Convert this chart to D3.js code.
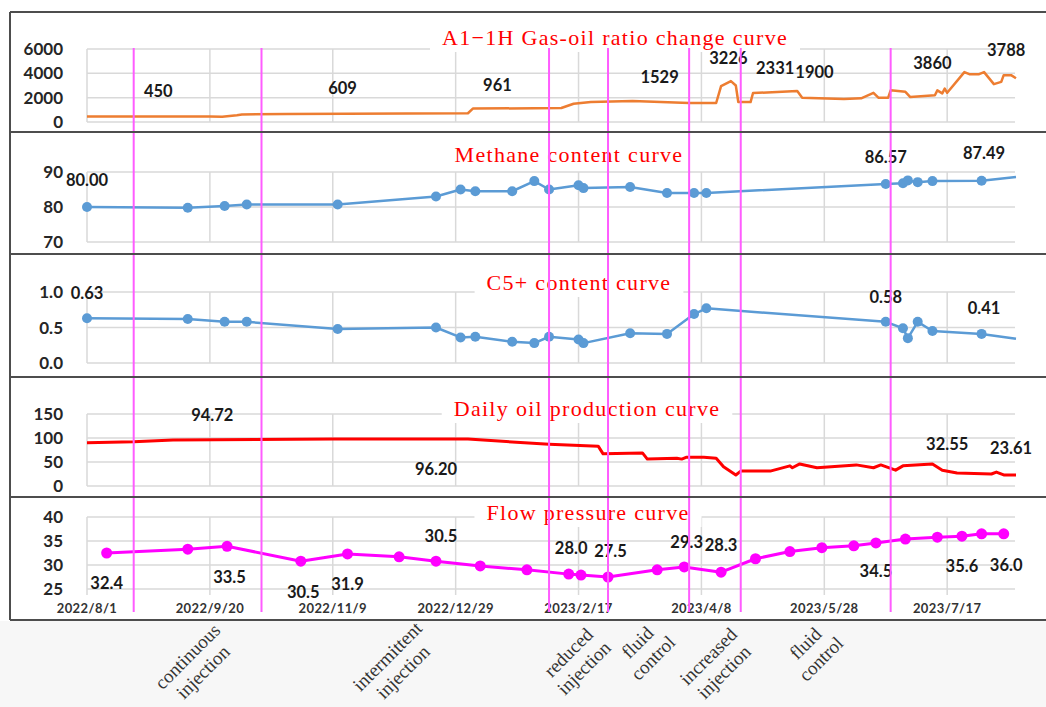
<!DOCTYPE html>
<html><head><meta charset="utf-8">
<script src="https://cdn.jsdelivr.net/npm/d3@7/dist/d3.min.js"></script>
<style>body{margin:0;background:#fff}svg{display:block}</style>
</head><body>
<svg id="c" width="1046" height="707"></svg>
<script>
// ---------------- DATA ----------------
const xTickLabels = ["2022/8/1","2022/9/20","2022/11/9","2022/12/29","2023/2/17","2023/4/8","2023/5/28","2023/7/17"];
const xTickDates  = ["2022-08-01","2022-09-20","2022-11-09","2022-12-29","2023-02-17","2023-04-08","2023-05-28","2023-07-17"];
const stageDates  = ["2022-08-20","2022-10-11","2023-02-05","2023-03-01","2023-04-03","2023-04-24","2023-06-24"];
const stageNames  = [["continuous","injection"],["intermittent","injection"],["reduced","injection"],["fluid","control"],["increased","injection"],["fluid","control"]];

const titles = ["A1\u22121H Gas-oil ratio change curve","Methane content curve","C5+ content curve","Daily oil production curve","Flow pressure curve"];

const gorDates = ["2022-08-01","2022-09-20","2022-09-25","2022-10-01","2022-10-03","2022-10-21","2023-01-03","2023-01-05","2023-02-10","2023-02-15","2023-02-22","2023-03-11","2023-04-03","2023-04-14","2023-04-16","2023-04-20","2023-04-22","2023-04-23","2023-04-28","2023-04-29","2023-05-17","2023-05-19","2023-06-05","2023-06-12","2023-06-17","2023-06-19","2023-06-23","2023-06-24","2023-06-30","2023-07-02","2023-07-12","2023-07-13","2023-07-15","2023-07-16","2023-07-17","2023-07-24","2023-07-26","2023-07-30","2023-08-01","2023-08-05","2023-08-08","2023-08-09","2023-08-12","2023-08-14"];
const gorValues = [450,460,430,560,620,660,720,1100,1150,1500,1640,1720,1560,1560,2950,3360,3000,1640,1640,2380,2540,2000,1900,1950,2400,2000,2000,2600,2480,2050,2200,2600,2350,2750,2400,4100,3930,3930,4100,3110,3300,3850,3850,3600];
const gorLabels = ["450","609","961","1529","3226","2331","1900","3860","3788"];

const sampleDates = ["2022-08-01","2022-09-11","2022-09-26","2022-10-05","2022-11-11","2022-12-21","2022-12-31","2023-01-06","2023-01-21","2023-01-30","2023-02-05","2023-02-17","2023-02-19","2023-03-10","2023-03-25","2023-04-05","2023-04-10","2023-06-22","2023-06-29","2023-07-01","2023-07-05","2023-07-11","2023-07-31","2023-08-14"];
const methaneValues = [80.0,79.8,80.3,80.7,80.7,83.0,85.0,84.5,84.5,87.4,85.0,86.2,85.4,85.7,84.0,84.0,84.0,86.57,86.8,87.6,87.1,87.4,87.49,88.6];
const methaneLabels = ["80.00","86.57","87.49"];
const c5Values = [0.63,0.62,0.58,0.58,0.48,0.50,0.36,0.37,0.30,0.28,0.37,0.33,0.28,0.42,0.41,0.69,0.77,0.58,0.49,0.35,0.58,0.45,0.41,0.34];
const c5Labels = ["0.63","0.58","0.41"];

const oilDates = ["2022-08-01","2022-08-20","2022-09-05","2022-11-09","2023-01-03","2023-01-26","2023-02-05","2023-02-25","2023-02-27","2023-03-15","2023-03-17","2023-03-29","2023-03-31","2023-04-02","2023-04-09","2023-04-14","2023-04-17","2023-04-22","2023-04-24","2023-05-06","2023-05-14","2023-05-15","2023-05-18","2023-05-25","2023-06-10","2023-06-17","2023-06-20","2023-06-26","2023-06-29","2023-07-11","2023-07-15","2023-07-21","2023-08-04","2023-08-06","2023-08-09","2023-08-14"];
const oilValues = [90,92,96,98,98,90,87,83,67,69,56,58,56,60,60,58,40,23,31,31,42,38,46,38,44,38,44,33,42,46,33,27,25,29,23,23];
const oilLabels = ["94.72","96.20","32.55","23.61"];

const pressureDates = ["2022-08-09","2022-09-11","2022-09-27","2022-10-27","2022-11-15","2022-12-06","2022-12-21","2023-01-08","2023-01-27","2023-02-13","2023-02-18","2023-03-01","2023-03-21","2023-04-01","2023-04-16","2023-04-30","2023-05-14","2023-05-27","2023-06-09","2023-06-18","2023-06-30","2023-07-13","2023-07-23","2023-07-31","2023-08-09"];
const pressureValues = [32.5,33.3,33.9,30.8,32.3,31.7,30.8,29.8,29.0,28.1,27.9,27.5,29.0,29.6,28.5,31.3,32.8,33.6,34.0,34.6,35.4,35.8,36.0,36.5,36.5];
const pressureLabels = ["32.4","33.5","30.5","31.9","30.5","28.0","27.5","29.3","28.3","34.5","35.6","36.0"];

// ---------------- LAYOUT ----------------
const parse = d3.timeParse("%Y-%m-%d");
const x = d3.scaleTime().domain([parse("2022-08-01"), parse("2023-08-14")]).range([87, 1016]);
const X0 = 87, X1 = 1015;

const panels = [
  {range:[122,49], domain:[0,6000], ticks:[0,2000,4000,6000], fmt:d3.format("d"), title:[615,45],
   labelPos:[["2022-08-30",2540],["2022-11-13",2790],["2023-01-15",3030],["2023-03-22",3690],["2023-04-19",5250],["2023-05-08",4430],["2023-05-24",4100],["2023-07-11",4840],["2023-08-10",5900]]},
  {range:[242,172], domain:[70,90], ticks:[70,80,90], fmt:d3.format("d"), title:[569,162],
   labelPos:[["2022-08-01",87.7],["2023-06-22",94.3],["2023-08-01",95.4]]},
  {range:[363,292], domain:[0,1], ticks:[0,0.5,1], fmt:d3.format(".1f"), title:[579,290],
   labelPos:[["2022-08-01",0.99],["2023-06-22",0.93],["2023-08-01",0.77]]},
  {range:[486,414], domain:[0,150], ticks:[0,50,100,150], fmt:d3.format("d"), title:[587,416],
   labelPos:[["2022-09-21",148],["2022-12-21",35],["2023-07-17",87.5],["2023-08-12",79]]},
  {range:[589,517], domain:[25,40], ticks:[25,30,35,40], fmt:d3.format("d"), title:[588,520],
   labelPos:[["2022-08-09",26.25],["2022-09-28",27.5],["2022-10-28",24.4],["2022-11-15",26.0],["2022-12-23",36.0],["2023-02-14",33.5],["2023-03-02",32.9],["2023-04-02",34.8],["2023-04-16",34.2],["2023-06-18",28.75],["2023-07-23",29.8],["2023-08-10",30.0]]}
];
panels.forEach(p => p.y = d3.scaleLinear().domain(p.domain).range(p.range));

const svg = d3.select("#c");
const numFont = "Lato, 'Open Sans', sans-serif";
const serif = "'Liberation Serif', 'DejaVu Serif', serif";

// bottom grey area
svg.append("rect").attr("x",0).attr("y",621).attr("width",1046).attr("height",86).attr("fill","#f7f7f7");

// gridlines
panels.forEach(p => {
  const g = svg.append("g");
  g.selectAll("line.h").data(p.ticks).join("line")
    .attr("x1",X0).attr("x2",X1).attr("y1",d=>p.y(d)).attr("y2",d=>p.y(d))
    .attr("stroke","#d9d9d9").attr("stroke-width",1.5);
  g.selectAll("line.v").data(xTickDates).join("line")
    .attr("x1",d=>x(parse(d))).attr("x2",d=>x(parse(d)))
    .attr("y1",p.range[1]).attr("y2",p.range[0] + (p===panels[4]?6:0))
    .attr("stroke","#d9d9d9").attr("stroke-width",1.5);
  g.selectAll("text").data(p.ticks).join("text")
    .attr("x",63).attr("y",d=>p.y(d)).attr("dy","0.36em").attr("text-anchor","end")
    .attr("font-family",numFont).attr("font-weight",700).attr("font-size",17).attr("fill","#262626")
    .text(p.fmt);
});

// titles with white backing
panels.forEach((p,i) => {
  const t = svg.append("text").attr("x",p.title[0]).attr("y",p.title[1]).attr("text-anchor","middle")
    .attr("font-family",serif).attr("font-size",22).attr("letter-spacing",1.3).attr("fill","#ff0000").text(titles[i]);
  const b = t.node().getBBox();
  svg.insert("rect", () => t.node()).attr("x",b.x-12).attr("y",b.y-4).attr("width",b.width+24).attr("height",b.height+6).attr("fill","#fff");
});

// series
const lineGen = (p) => d3.line().x(d=>x(d[0])).y(d=>p.y(d[1]));
const gor = gorDates.map((d,i)=>[parse(d),gorValues[i]]);
svg.append("path").datum(gor).attr("d",lineGen(panels[0])).attr("fill","none").attr("stroke","#ed7d31").attr("stroke-width",2.5).attr("stroke-linejoin","round");

function markerSeries(p, dates, vals, color, width, r, skipLast){
  const data = dates.map((d,i)=>[parse(d),vals[i]]);
  svg.append("path").datum(data).attr("d",lineGen(p)).attr("fill","none").attr("stroke",color).attr("stroke-width",width).attr("stroke-linejoin","round");
  svg.append("g").selectAll("circle").data(skipLast?data.slice(0,-1):data).join("circle")
    .attr("cx",d=>x(d[0])).attr("cy",d=>p.y(d[1])).attr("r",r).attr("fill",color);
}
markerSeries(panels[1], sampleDates, methaneValues, "#5b9bd5", 2.5, 5, true);
markerSeries(panels[2], sampleDates, c5Values, "#5b9bd5", 2.5, 5, true);
const oil = oilDates.map((d,i)=>[parse(d),oilValues[i]]);
svg.append("path").datum(oil).attr("d",lineGen(panels[3])).attr("fill","none").attr("stroke","#ff0000").attr("stroke-width",3).attr("stroke-linejoin","round");
markerSeries(panels[4], pressureDates, pressureValues, "#ff00ff", 3, 5.5, false);

// data labels
const allLabels = [gorLabels, methaneLabels, c5Labels, oilLabels, pressureLabels];
panels.forEach((p,i) => {
  svg.append("g").selectAll("text").data(allLabels[i]).join("text")
    .attr("x",(d,j)=>x(parse(p.labelPos[j][0]))).attr("y",(d,j)=>p.y(p.labelPos[j][1]))
    .attr("dy","0.36em").attr("text-anchor","middle")
    .attr("font-family",numFont).attr("font-weight",700).attr("font-size",16.5).attr("fill","#1a1a1a")
    .text(d=>d);
});

// x axis labels
svg.append("g").selectAll("text").data(xTickLabels).join("text")
  .attr("x",(d,i)=>x(parse(xTickDates[i]))).attr("y",613).attr("text-anchor","middle")
  .attr("font-family",numFont).attr("font-weight",700).attr("font-size",13).attr("letter-spacing",0.4).attr("fill","#333")
  .text(d=>d);

// stage vertical lines
svg.append("g").selectAll("line").data(stageDates).join("line")
  .attr("x1",d=>x(parse(d))).attr("x2",d=>x(parse(d))).attr("y1",48).attr("y2",612)
  .attr("stroke","#ff5cff").attr("stroke-width",2);

// frame
const frameY = [12,132,254,377,497,620];
svg.append("g").selectAll("line").data(frameY).join("line")
  .attr("x1",10).attr("x2",1046).attr("y1",d=>d).attr("y2",d=>d).attr("stroke","#4d4d4d").attr("stroke-width",2);
svg.append("line").attr("x1",10).attr("x2",10).attr("y1",12).attr("y2",620).attr("stroke","#4d4d4d").attr("stroke-width",2);

// stage names rotated
const stageLabelPos = [[195,664],[395,664],[576,660],[645,650],[716,664],[813,651]];
stageNames.forEach((lines,i) => {
  const g = svg.append("g").attr("transform",`translate(${stageLabelPos[i][0]},${stageLabelPos[i][1]}) rotate(-45)`);
  g.selectAll("text").data(lines).join("text")
    .attr("x",0).attr("y",(d,j)=>(j-0.5)*22).attr("dy","0.35em").attr("text-anchor","middle")
    .attr("font-family",serif).attr("font-size",19).attr("fill","#333").text(d=>d);
});
</script>
</body></html>
